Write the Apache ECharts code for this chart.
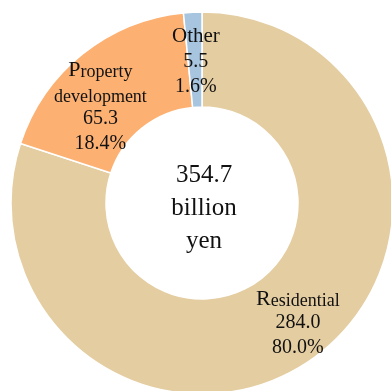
<!DOCTYPE html>
<html>
<head>
<meta charset="utf-8">
<script src="https://cdn.jsdelivr.net/npm/echarts@6/dist/echarts.min.js"></script>
<style>
  html, body { margin: 0; padding: 0; background: #fff; }
  #chart { width: 391px; height: 391px; }
</style>
</head>
<body>
<div id="chart"></div>
<script>
// Segment data (billion yen), drawn clockwise from 12 o'clock
const segmentNames = ['Residential', 'Property development', 'Other'];
const segmentValues = [284.0, 65.3, 5.5];
const segmentShares = ['80.0%', '18.4%', '1.6%'];
const segmentColors = ['#E4CDA1', '#FCB173', '#A8C5E0'];
const totalLabel = '354.7';
const totalUnit = ['billion', 'yen'];

const serif = '"Liberation Serif", "DejaVu Serif", "Times New Roman", serif';

// Name lines: first letter set larger, the rest in a smaller size
function nameLines(name, idx) {
  if (idx === 0) return '{cap|R}{sm|esidential}';
  if (idx === 1) return '{cap|P}{sm|roperty}\n{sm|development}';
  return '{nm|' + name + '}';
}

const labelOffsets = [[10, 1], [-10, 18], [1, 5]];

const chart = echarts.init(document.getElementById('chart'), null, { renderer: 'canvas' });

chart.setOption({
  backgroundColor: '#ffffff',
  animation: false,
  graphic: [{
    type: 'text',
    x: 204,
    y: 208,
    style: {
      text: [totalLabel].concat(totalUnit).join('\n'),
      align: 'center',
      verticalAlign: 'middle',
      fontSize: 25,
      fontFamily: serif,
      lineHeight: 33,
      fill: '#111'
    }
  }],
  series: [{
    type: 'pie',
    center: [202, 203],
    radius: [96, 191],
    startAngle: 90,
    clockwise: true,
    avoidLabelOverlap: false,
    itemStyle: { borderColor: '#ffffff', borderWidth: 1.5 },
    label: {
      show: true,
      position: 'inside',
      color: '#111',
      fontFamily: serif,
      formatter: function (p) {
        return nameLines(p.name, p.dataIndex) + '\n{val|' + p.value.toFixed(1) + '}\n{val|' + segmentShares[p.dataIndex] + '}';
      },
      rich: {
        cap: { fontSize: 22, fontFamily: serif, color: '#111', lineHeight: 25, verticalAlign: 'bottom' },
        sm: { fontSize: 18, fontFamily: serif, color: '#111', lineHeight: 25, verticalAlign: 'bottom' },
        nm: { fontSize: 21, fontFamily: serif, color: '#111', lineHeight: 25 },
        val: { fontSize: 20, fontFamily: serif, color: '#111', lineHeight: 25 }
      }
    },
    labelLine: { show: false },
    emphasis: { disabled: true },
    data: segmentNames.map(function (n, i) {
      return {
        name: n,
        value: segmentValues[i],
        itemStyle: { color: segmentColors[i] },
        label: { offset: labelOffsets[i] }
      };
    })
  }]
});
</script>
</body>
</html>
